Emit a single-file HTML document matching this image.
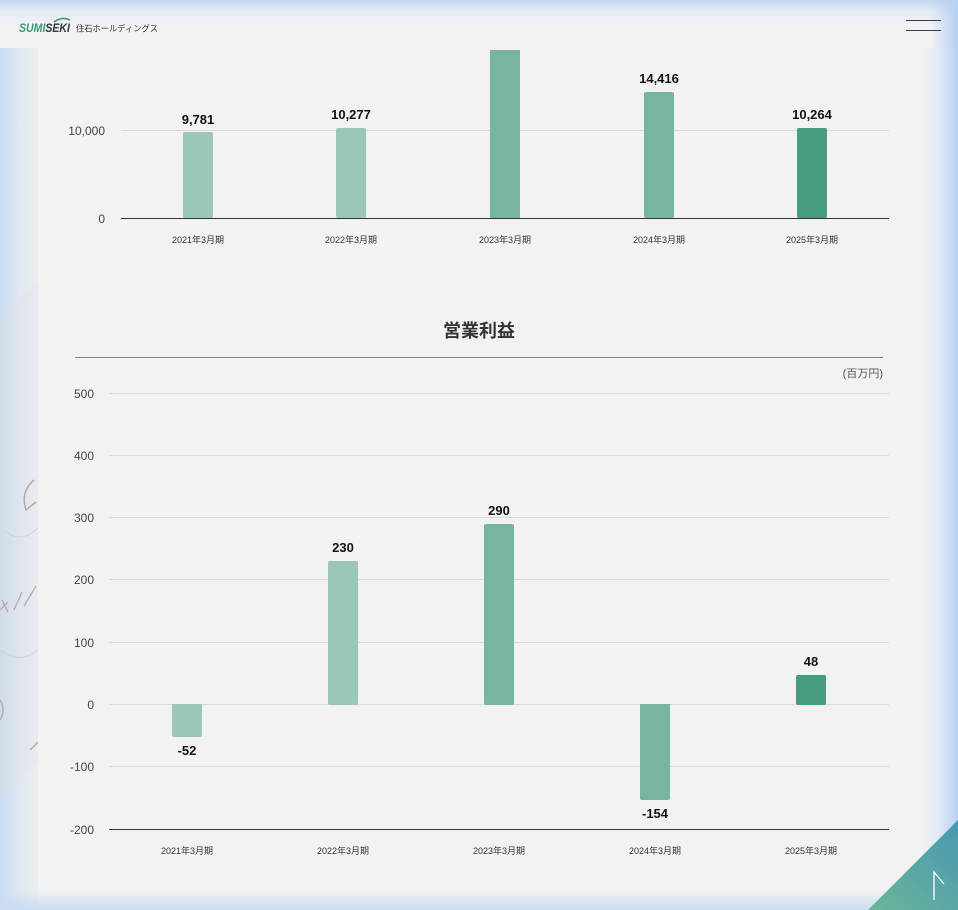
<!DOCTYPE html>
<html><head><meta charset="utf-8">
<style>
html,body{margin:0;padding:0;}
body{width:958px;height:910px;overflow:hidden;position:relative;background:#f2f2f2;font-family:"Liberation Sans","Noto Sans CJK JP",sans-serif;}
.abs{position:absolute;}
</style></head><body>
<!-- left strip -->
<div class="abs" style="left:0;top:0;width:38px;height:910px;background:linear-gradient(to right,#c9dbf1 0,#e0e8f2 20px,#eceef1 38px);"></div>
<!-- calculator-ish image on left -->
<svg class="abs" style="left:0;top:280px" width="38" height="530">
  <defs><linearGradient id="cg" x1="0" x2="1"><stop offset="0" stop-color="#d3dce8"/><stop offset="1" stop-color="#e8eaee"/></linearGradient></defs>
  <polygon points="0,40 38,0 38,480 0,520" fill="url(#cg)" opacity="0.7"/>
  <path d="M34,200 Q20,212 26,230 L36,222" stroke="#b9a9ad" stroke-width="1.5" fill="none"/>
  <path d="M0,330 L8,322 M2,320 L8,332 M14,330 L22,312 M24,326 L36,306" stroke="#b9a9ad" stroke-width="1.3" fill="none"/>
  <path d="M0,420 Q6,430 0,440" stroke="#b9a9ad" stroke-width="1.5" fill="none"/>
  <path d="M30,470 L38,462" stroke="#b9a9ad" stroke-width="1.5" fill="none"/>
  <path d="M4,250 Q20,265 38,248 M0,370 Q20,385 38,370" stroke="#ccd3dc" stroke-width="1" fill="none"/>
</svg>
<!-- right strip -->
<div class="abs" style="left:920px;top:0;width:38px;height:910px;background:linear-gradient(to right,#f2f3f4 0,#e4eaf4 18px,#b8d0f3 38px);"></div>
<!-- top band -->
<div class="abs" style="left:0;top:0;width:958px;height:48px;background:linear-gradient(to bottom,#c3d7f3 0,#e6ecf4 12px,#f2f2f2 26px,#f3f3f3 48px);"></div>
<div class="abs" style="left:930px;top:0;width:28px;height:48px;background:linear-gradient(to right,rgba(184,208,243,0),#b6cff3);"></div>
<!-- bottom band -->
<div class="abs" style="left:0;top:890px;width:958px;height:20px;background:linear-gradient(to bottom,rgba(242,242,242,0),#cadbf2);"></div>

<!-- header -->
<svg class="abs" style="left:14px;top:14px" width="160" height="26">
  <path d="M40,8 Q48,2 56,6" stroke="#3a9a78" stroke-width="1.6" fill="none"/>
  <text x="5" y="18" font-family="Liberation Sans,sans-serif" font-size="12" font-weight="bold" font-style="italic" fill="#3a9a78" textLength="51" lengthAdjust="spacingAndGlyphs">SUMI<tspan fill="#2c3a3a">SEKI</tspan></text>
  <text x="62" y="17.5" font-family="Liberation Sans,'Noto Sans CJK JP',sans-serif" font-size="8.5" fill="#333" textLength="82" lengthAdjust="spacingAndGlyphs">住石ホールディングス</text>
</svg>
<div class="abs" style="left:906px;top:20px;width:35px;height:1px;background:#3a3f4a;"></div>
<div class="abs" style="left:906px;top:30px;width:35px;height:1px;background:#3a3f4a;"></div>

<!-- charts -->
<svg class="abs" style="left:0;top:0" width="958" height="910" font-family="Liberation Sans,'Noto Sans CJK JP',sans-serif">
  <line x1="121" y1="130.5" x2="889" y2="130.5" stroke="#d9d9d9" stroke-width="1"/>
  <rect x="183" y="132" width="30" height="86" rx="2" fill="#9cc6b8"/>
  <rect x="336" y="128" width="30" height="90" rx="2" fill="#9cc6b8"/>
  <rect x="490" y="50" width="30" height="168" fill="#77b5a1"/>
  <rect x="644" y="92" width="30" height="126" rx="2" fill="#77b5a1"/>
  <rect x="797" y="128" width="30" height="90" rx="2" fill="#469c81"/>
  <line x1="121" y1="218.5" x2="889" y2="218.5" stroke="#333" stroke-width="1"/>
  <g font-size="12" fill="#444" text-anchor="end">
    <text x="105" y="135">10,000</text>
    <text x="105" y="223">0</text>
  </g>
  <g font-size="13" font-weight="bold" fill="#111" text-anchor="middle">
    <text x="198" y="124">9,781</text>
    <text x="351" y="119">10,277</text>
    <text x="659" y="83">14,416</text>
    <text x="812" y="119">10,264</text>
  </g>
  <g font-size="9" fill="#333" text-anchor="middle">
    <text x="198" y="243">2021年3月期</text>
    <text x="351" y="243">2022年3月期</text>
    <text x="505" y="243">2023年3月期</text>
    <text x="659" y="243">2024年3月期</text>
    <text x="812" y="243">2025年3月期</text>
  </g>

  <text x="479" y="337" font-size="18" font-weight="bold" fill="#333" text-anchor="middle">営業利益</text>
  <line x1="75" y1="357.5" x2="883" y2="357.5" stroke="#4f9a7e" stroke-width="1"/>
  <text x="883" y="377" font-size="11" fill="#555" text-anchor="end">(百万円)</text>

  <g stroke="#d9d9d9" stroke-width="1">
    <line x1="109" y1="393.5" x2="889" y2="393.5"/>
    <line x1="109" y1="455.5" x2="889" y2="455.5"/>
    <line x1="109" y1="517.5" x2="889" y2="517.5"/>
    <line x1="109" y1="579.5" x2="889" y2="579.5"/>
    <line x1="109" y1="642.5" x2="889" y2="642.5"/>
    <line x1="109" y1="704.5" x2="889" y2="704.5"/>
    <line x1="109" y1="766.5" x2="889" y2="766.5"/>
  </g>
  <line x1="109" y1="829.5" x2="889" y2="829.5" stroke="#333" stroke-width="1"/>
  <g font-size="12" fill="#444" text-anchor="end">
    <text x="94" y="398">500</text>
    <text x="94" y="460">400</text>
    <text x="94" y="522">300</text>
    <text x="94" y="584">200</text>
    <text x="94" y="647">100</text>
    <text x="94" y="709">0</text>
    <text x="94" y="771">-100</text>
    <text x="94" y="834">-200</text>
  </g>
  <rect x="172" y="704" width="30" height="33" rx="2" fill="#9cc6b8"/>
  <rect x="328" y="561" width="30" height="144" rx="2" fill="#9cc6b8"/>
  <rect x="484" y="524" width="30" height="181" rx="2" fill="#77b5a1"/>
  <rect x="640" y="704" width="30" height="96" rx="2" fill="#77b5a1"/>
  <rect x="796" y="675" width="30" height="30" rx="2" fill="#469c81"/>
  <rect x="172" y="704" width="30" height="4" fill="#9cc6b8"/>
  <rect x="640" y="704" width="30" height="4" fill="#77b5a1"/>
  <g font-size="13" font-weight="bold" fill="#111" text-anchor="middle">
    <text x="187" y="755">-52</text>
    <text x="343" y="552">230</text>
    <text x="499" y="515">290</text>
    <text x="655" y="818">-154</text>
    <text x="811" y="666">48</text>
  </g>
  <g font-size="9" fill="#333" text-anchor="middle">
    <text x="187" y="854">2021年3月期</text>
    <text x="343" y="854">2022年3月期</text>
    <text x="499" y="854">2023年3月期</text>
    <text x="655" y="854">2024年3月期</text>
    <text x="811" y="854">2025年3月期</text>
  </g>

  <defs><linearGradient id="tg" x1="0" y1="1" x2="1" y2="0"><stop offset="0" stop-color="#6cb59a"/><stop offset="1" stop-color="#4a98b2"/></linearGradient></defs>
  <polygon points="868,910 958,820 958,910" fill="url(#tg)"/>
  <path d="M934,900 L934,872 L944,884" stroke="#fff" stroke-width="1.3" fill="none"/>
</svg>
</body></html>
